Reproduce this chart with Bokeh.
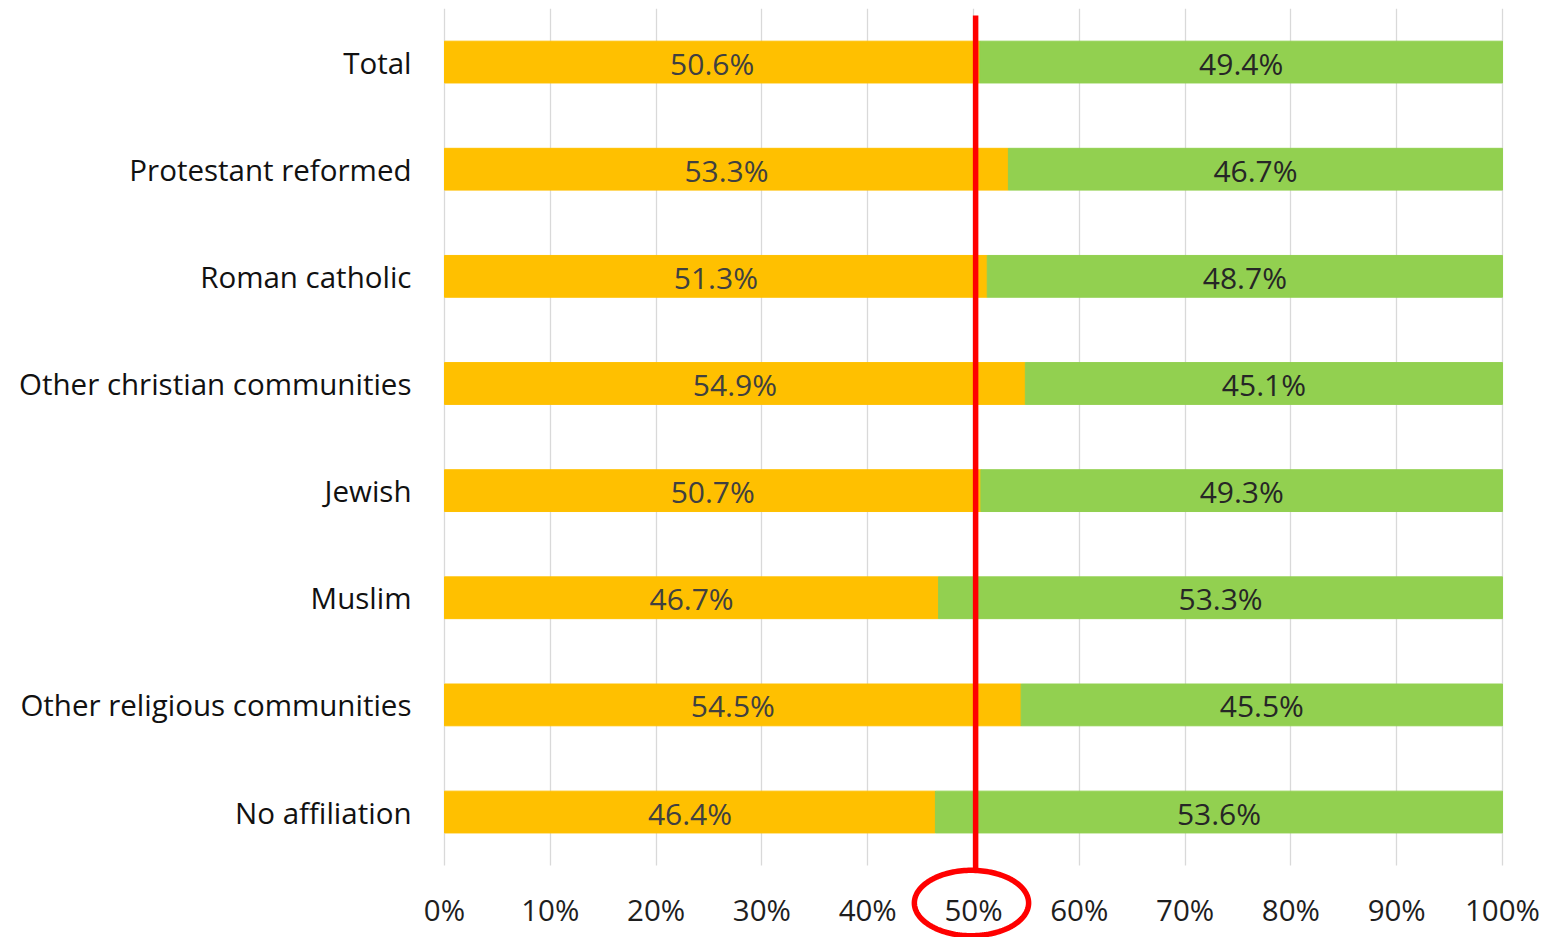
import numpy as np
from bokeh.plotting import figure
from bokeh.models import ColumnDataSource, FixedTicker, PrintfTickFormatter, PolyAnnotation, BoxAnnotation, Range1d
from bokeh.core.properties import value
from bokeh.embed import file_html
from bokeh.resources import INLINE

categories = ["Total", "Protestant reformed", "Roman catholic", "Other christian communities",
              "Jewish", "Muslim", "Other religious communities", "No affiliation"]
share_a = [50.6, 53.3, 51.3, 54.9, 50.7, 46.7, 54.5, 46.4]
share_b = [49.4, 46.7, 48.7, 45.1, 49.3, 53.3, 45.5, 53.6]
tick_values = list(range(0, 101, 10))
threshold = 50

FONT = "Open Sans"
ORANGE = "#FFC000"
GREEN = "#92D050"

W, H = 1545, 937
plot_left_px, px_per_pct = 444, 10.58

n = len(categories)
pos = np.arange(n)[::-1].astype(float)          # Total at the top
a = np.array(share_a)
b = np.array(share_b)
src = ColumnDataSource(dict(
    cat=categories, pos=pos, a=a, b=b, ab=a + b,
    a_mid=a / 2, b_mid=a + b / 2,
    a_lab=[f"{v:.1f}%" for v in share_a],
    b_lab=[f"{v:.1f}%" for v in share_b],
))

band_bottom = -0.5
x_start = -plot_left_px / px_per_pct
x_end = (W - plot_left_px) / px_per_pct
p = figure(x_range=Range1d(x_start, x_end), y_range=Range1d(-1.171, n - 0.5),
           frame_width=W, frame_height=H - 8,
           min_border_left=0, min_border_right=0, min_border_top=8, min_border_bottom=0,
           output_backend="svg", toolbar_location=None)

p.hbar(y="pos", left=0, right="a", height=0.39, color=ORANGE, source=src)
p.hbar(y="pos", left="a", right="ab", height=0.39, color=GREEN, source=src)

p.text(x="a_mid", y="pos", text="a_lab", source=src, text_align="center", text_baseline="middle",
       text_font=value(FONT), text_font_size="30px", text_color="#404040", y_offset=1)
p.text(x="b_mid", y="pos", text="b_lab", source=src, text_align="center", text_baseline="middle",
       text_font=value(FONT), text_font_size="30px", text_color="#262626", y_offset=1)

p.outline_line_color = None
p.ygrid.grid_line_color = None
p.xgrid.grid_line_color = "#D9D9D9"
p.xgrid.grid_line_width = 1.3
p.xgrid.ticker = FixedTicker(ticks=tick_values)

# hide the gridlines below the bar area (tick label zone)
p.add_layout(BoxAnnotation(top=band_bottom, bottom=-5, left=x_start - 10, right=x_end + 10,
                           fill_color="white", fill_alpha=1, line_alpha=0, level="underlay"))

p.xaxis.fixed_location = band_bottom
p.xaxis.ticker = FixedTicker(ticks=tick_values)
p.xaxis.formatter = PrintfTickFormatter(format="%d%%")
p.xaxis.axis_line_color = None
p.xaxis.major_tick_line_color = None
p.xaxis.minor_tick_line_color = None
p.xaxis.major_tick_out = 0
p.xaxis.major_tick_in = 0
p.xaxis.major_label_standoff = 23
p.xaxis.major_label_text_font = FONT
p.xaxis.major_label_text_font_size = "29.5px"
p.xaxis.major_label_text_color = "#1e1e1e"

p.yaxis.fixed_location = 0
p.yaxis.ticker = FixedTicker(ticks=list(pos))
p.yaxis.major_label_overrides = {int(y): c for y, c in zip(pos, categories)}
p.yaxis.axis_line_color = None
p.yaxis.major_tick_line_color = None
p.yaxis.minor_tick_line_color = None
p.yaxis.major_tick_out = 0
p.yaxis.major_tick_in = 0
p.yaxis.major_label_standoff = 33
p.yaxis.major_label_text_font = FONT
p.yaxis.major_label_text_font_size = "29.5px"
p.yaxis.major_label_text_color = "#111111"

# red 50% marker line and ellipse around the 50% tick label
line_x = threshold + 0.2
p.add_layout(PolyAnnotation(xs=[line_x, line_x], ys=[n - 0.565, band_bottom - 0.045],
                            line_color="red", line_alpha=1, line_width=5.5, fill_alpha=0))
t = np.linspace(0, 2 * np.pi, 160)
ex = (threshold - 0.19) + 5.4 * np.cos(t)
ey = (band_bottom - 0.349) + 0.305 * np.sin(t)
p.add_layout(PolyAnnotation(xs=list(ex), ys=list(ey),
                            line_color="red", line_alpha=1, line_width=5.5, fill_alpha=0))

open("out.html", "w").write(file_html(p, INLINE))
